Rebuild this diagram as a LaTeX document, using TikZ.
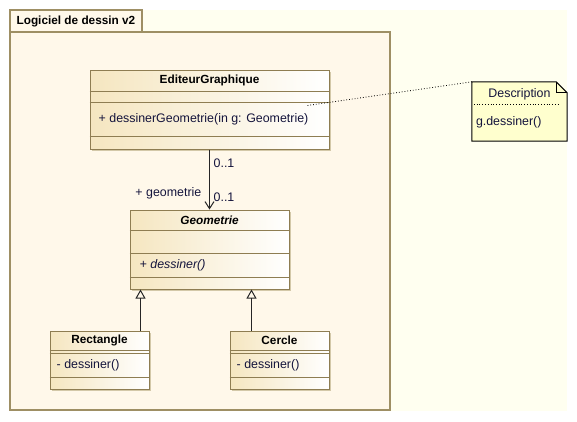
\documentclass[tikz,border=0pt]{standalone}
\usepackage{fontspec}
\setmainfont{Liberation Sans}
\usetikzlibrary{arrows.meta,calc,shadows}
\definecolor{bgyellow}{HTML}{FFFFF0}
\definecolor{pkgfill}{HTML}{FFF8EA}
\definecolor{pkgline}{HTML}{9E8F64}
\definecolor{clsline}{HTML}{8E7D52}
\definecolor{clsleft}{HTML}{F5E6C0}
\definecolor{shadowc}{HTML}{D3C8A8}
\definecolor{notefill}{HTML}{FFFFCE}
\definecolor{txt}{HTML}{14143C}
\newcommand{\ttlfont}{\fontsize{11.8}{14}\selectfont\bfseries}
\newcommand{\regfont}{\fontsize{12.4}{14}\selectfont}
\tikzset{
  classbox/.style={draw=clsline, line width=1pt, left color=clsleft, right color=white,
    inner sep=0pt, drop shadow={shadow xshift=2pt, shadow yshift=-2pt, fill=shadowc, opacity=1}},
  sepline/.style={draw=clsline, line width=1pt},
  ttl/.style={inner sep=0pt, font=\ttlfont, text=black},
  reg/.style={inner sep=0pt, font=\regfont, text=txt, anchor=west},
  inh/.style={draw=black!85, line width=1pt, -{Triangle[open, length=9pt, width=10pt, line width=1pt]}},
  assoc/.style={draw=black!85, line width=1pt, -{Straight Barb[length=7pt, width=9pt, line width=1pt]}},
}
\begin{document}
\begin{tikzpicture}[x=1pt, y=-1pt]
\useasboundingbox (0,0) rectangle (577,421);
% background
\fill[bgyellow] (10,10) rectangle (567,411);
% package
\node[draw=pkgline, fill=pkgfill, line width=1.2pt, minimum width=132pt, minimum height=22pt, inner sep=0pt] (tab) at (76,21) {};
\node[draw=pkgline, fill=pkgfill, line width=1.2pt, minimum width=380pt, minimum height=378pt, inner sep=0pt] (pkg) at (200,221) {};
\node[ttl, anchor=west] (pkgT) at ($(tab.west)+(7,0)$) {Logiciel de dessin v2};

% EditeurGraphique
\node[classbox, minimum width=239pt, minimum height=79pt] (ed) at (209.5,109.5) {};
\draw[sepline] ($(ed.north west)+(0,22)$) -- ($(ed.north east)+(0,22)$);
\draw[sepline] ($(ed.north west)+(0,33)$) -- ($(ed.north east)+(0,33)$);
\draw[sepline] ($(ed.north west)+(0,67)$) -- ($(ed.north east)+(0,67)$);
\node[ttl] (edT) at ($(ed.north)+(0,11)$) {EditeurGraphique};
\node[reg] (edOp) at ($(ed.north west)+(9,50)$) {+ dessinerGeometrie(in g: Geometrie)};

% Geometrie
\node[classbox, minimum width=159pt, minimum height=79pt] (geo) at (209.5,249.5) {};
\draw[sepline] ($(geo.north west)+(0,21)$) -- ($(geo.north east)+(0,21)$);
\draw[sepline] ($(geo.north west)+(0,44)$) -- ($(geo.north east)+(0,44)$);
\draw[sepline] ($(geo.north west)+(0,68)$) -- ($(geo.north east)+(0,68)$);
\node[ttl, font=\ttlfont\itshape] (geoT) at ($(geo.north)+(0,11)$) {Geometrie};
\node[reg, font=\regfont\itshape] (geoOp) at ($(geo.north west)+(10,56)$) {+ dessiner()};

% Rectangle
\node[classbox, minimum width=99pt, minimum height=58pt] (rect) at (99.5,360) {};
\draw[sepline] ($(rect.north west)+(0,20)$) -- ($(rect.north east)+(0,20)$);
\draw[sepline] ($(rect.north west)+(0,23)$) -- ($(rect.north east)+(0,23)$);
\draw[sepline] ($(rect.north west)+(0,47)$) -- ($(rect.north east)+(0,47)$);
\node[ttl] (rectT) at ($(rect.north)+(0,10)$) {Rectangle};
\node[reg] (rectOp) at ($(rect.north west)+(7,35)$) {- dessiner()};

% Cercle
\node[classbox, minimum width=99pt, minimum height=58pt] (cer) at (279.5,360) {};
\draw[sepline] ($(cer.north west)+(0,20)$) -- ($(cer.north east)+(0,20)$);
\draw[sepline] ($(cer.north west)+(0,23)$) -- ($(cer.north east)+(0,23)$);
\draw[sepline] ($(cer.north west)+(0,47)$) -- ($(cer.north east)+(0,47)$);
\node[ttl] (cerT) at ($(cer.north)+(0,10)$) {Cercle};
\node[reg] (cerOp) at ($(cer.north west)+(7,35)$) {- dessiner()};

% generalisations
\draw[inh] ($(rect.north west)+(91,0)$) -- ($(geo.south west)+(11,0)$);
\draw[inh] ($(cer.north west)+(22,0)$) -- ($(geo.south west)+(122,0)$);

% association
\draw[assoc] (ed.south) -- (geo.north);
\node[reg] (m1) at ($(ed.south)+(4,14)$) {0..1};
\node[reg] (m2) at ($(geo.north)+(4,-12)$) {0..1};
\node[reg, anchor=east] (role) at ($(geo.north)+(-8,-16)$) {+ geometrie};

% note
\node[minimum width=95pt, minimum height=59pt, inner sep=0pt] (note) at (519.5,111.5) {};
\filldraw[fill=notefill, draw=black, line width=1pt]
  (note.north west) -- ($(note.north east)+(-11,0)$) -- ($(note.north east)+(0,11)$)
  -- (note.south east) -- (note.south west) -- cycle;
\draw[black, line width=1pt] ($(note.north east)+(-11,0)$) -- ($(note.north east)+(-11,11)$) -- ($(note.north east)+(0,11)$);
\node[inner sep=0pt, font=\regfont, text=txt] (noteT) at ($(note.north)+(0,12)$) {Description};
\draw[black, line width=0.8pt, dotted] ($(note.north west)+(2,23)$) -- ($(note.north east)+(-8,23)$);
\node[reg] (noteB) at ($(note.north west)+(4,40)$) {g.dessiner()};

% note link
\coordinate (edLink) at ($(ed.north east)+(-22,36)$);
\draw[black, line width=0.8pt, dotted] (edLink) -- (note.north west);
\end{tikzpicture}
\end{document}
